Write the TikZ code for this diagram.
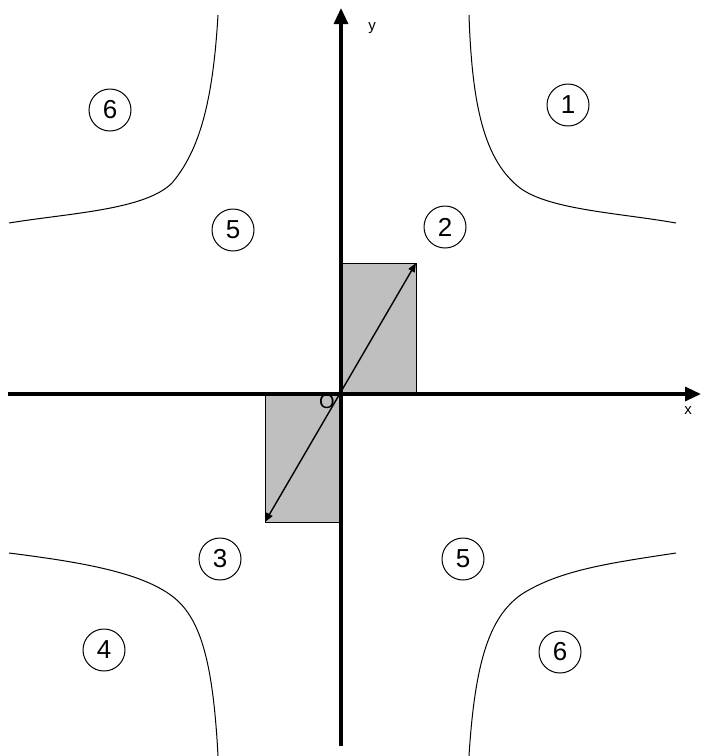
\documentclass[tikz,border=0pt]{standalone}
\usepackage{fontspec}
\setmainfont{Liberation Sans}
\usetikzlibrary{arrows.meta}

\begin{document}
\begin{tikzpicture}[x=0.5pt, y=-0.5pt,
  region/.style={draw, circle, line width=0.5pt, minimum size=21pt, inner sep=0pt, font=\fontsize{13}{15}\selectfont},
  axis/.style={line width=1.6pt, -{Triangle[length=8pt,width=7pt]}},
  curve/.style={line width=0.5pt},
  shade/.style={draw, line width=0.5pt, fill=black!25},
  arr/.style={line width=0.7pt, {Triangle[length=4.5pt,width=3.5pt]}-{Triangle[length=4.5pt,width=3.5pt]}},
  lab/.style={font=\fontsize{7.5}{9}\selectfont, inner sep=0pt}]
\useasboundingbox (0,0) rectangle (701,756);
\coordinate (o) at (341,394);
\coordinate (ur) at (416,263);
\coordinate (ll) at (265,522);
\filldraw[shade] (o) rectangle (ur);
\filldraw[shade] (o) rectangle (ll);
\coordinate (xs) at (8,394); \coordinate (xe) at (701,394);
\coordinate (ys) at (341,746); \coordinate (ye) at (341,8);
\draw[axis] (xs) -- (xe);
\draw[axis] (ys) -- (ye);
\draw[arr] (ll) -- (ur);
\node[lab] (ylab) at (372,28) {y};
\node[lab] (xlab) at (688,411) {x};
\node[inner sep=0pt, font=\fontsize{10}{12}\selectfont] (orig) at (327,402) {O};
\draw[curve] (218,15) .. controls (213,100) and (200,150) .. (172,183) .. controls (145,210) and (70,213) .. (9,223);
\draw[curve] (469,15) .. controls (472,105) and (484,160) .. (520,188) .. controls (550,210) and (620,213) .. (676,223);
\draw[curve] (9,553) .. controls (80,562) and (140,572) .. (172,596) .. controls (200,617) and (213,660) .. (218,756);
\draw[curve] (676,553) .. controls (610,563) and (560,570) .. (522,594) .. controls (490,616) and (475,660) .. (469,756);
\node[region] (r6a) at (110,110) {6};
\node[region] (r1) at (568,105) {1};
\node[region] (r5a) at (233,230) {5};
\node[region] (r2) at (445,227) {2};
\node[region] (r3) at (220,559) {3};
\node[region] (r5b) at (463,559) {5};
\node[region] (r4) at (104,650) {4};
\node[region] (r6b) at (560,652) {6};
\end{tikzpicture}
\end{document}
